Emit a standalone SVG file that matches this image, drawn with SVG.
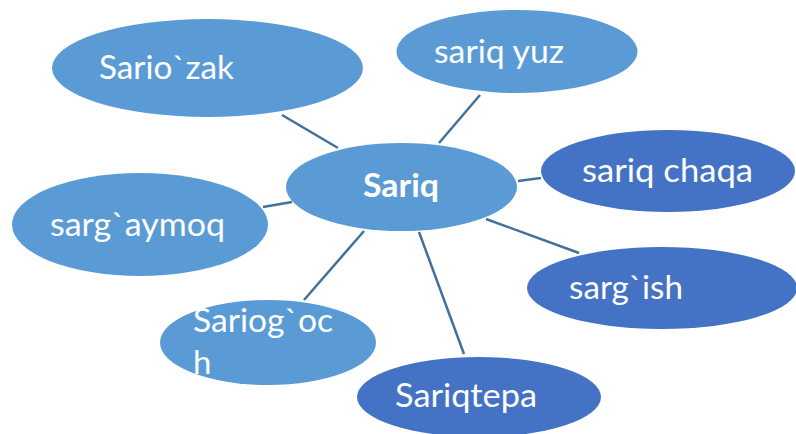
<svg xmlns="http://www.w3.org/2000/svg" width="796" height="434" viewBox="0 0 796 434">
<style>
.light{fill:#5B9BD5}
.dark{fill:#4472C4}
.lbl{font-family:Lato,"Open Sans","Liberation Sans",sans-serif;font-size:33px;fill:#FFFFFF}
.bold{font-weight:bold}
.conn line{stroke:#41719C;stroke-width:2.5}
</style>
<rect width="796" height="434" fill="#FFFFFF"/>
<g id="connectors" class="conn">
<line x1="282" y1="115" x2="338" y2="148"/>
<line x1="263" y1="207" x2="292" y2="202"/>
<line x1="480" y1="95" x2="439" y2="143"/>
<line x1="518" y1="181" x2="541" y2="178"/>
<line x1="364" y1="231" x2="304" y2="300"/>
<line x1="486" y1="219" x2="579" y2="253"/>
<line x1="419" y1="232" x2="464" y2="354"/>
</g>
<g id="node-sariozak">
<ellipse class="light" cx="207.5" cy="68" rx="155.5" ry="49"/>
<text class="lbl" x="99" y="79" textLength="135" lengthAdjust="spacingAndGlyphs">Sario`zak</text>
</g>
<g id="node-sariqyuz">
<ellipse class="light" cx="517" cy="51.5" rx="120.5" ry="41.5"/>
<text class="lbl" x="434" y="63" textLength="130" lengthAdjust="spacingAndGlyphs">sariq yuz</text>
</g>
<g id="node-sariq">
<ellipse class="light" cx="401.5" cy="187" rx="115.5" ry="44"/>
<text class="lbl bold" x="363" y="197" textLength="76" lengthAdjust="spacingAndGlyphs">Sariq</text>
</g>
<g id="node-sariqchaqa">
<ellipse class="dark" cx="668" cy="171" rx="127" ry="41"/>
<text class="lbl" x="582" y="182" textLength="171" lengthAdjust="spacingAndGlyphs">sariq chaqa</text>
</g>
<g id="node-sargaymoq">
<ellipse class="light" cx="140" cy="224.5" rx="128" ry="51.5"/>
<text class="lbl" x="50" y="236" textLength="175" lengthAdjust="spacingAndGlyphs">sarg`aymoq</text>
</g>
<g id="node-sargish">
<ellipse class="dark" cx="662" cy="288" rx="135" ry="41"/>
<text class="lbl" x="569" y="299" textLength="114" lengthAdjust="spacingAndGlyphs">sarg`ish</text>
</g>
<g id="node-sariogoch">
<ellipse class="light" cx="268" cy="342.5" rx="108" ry="42.5"/>
<text class="lbl" x="193" y="332" textLength="140" lengthAdjust="spacingAndGlyphs">Sariog`oc</text>
<text class="lbl" x="193" y="374">h</text>
</g>
<g id="node-sariqtepa">
<ellipse class="dark" cx="479" cy="397" rx="122" ry="40"/>
<text class="lbl" x="395" y="407" textLength="142" lengthAdjust="spacingAndGlyphs">Sariqtepa</text>
</g>
</svg>
